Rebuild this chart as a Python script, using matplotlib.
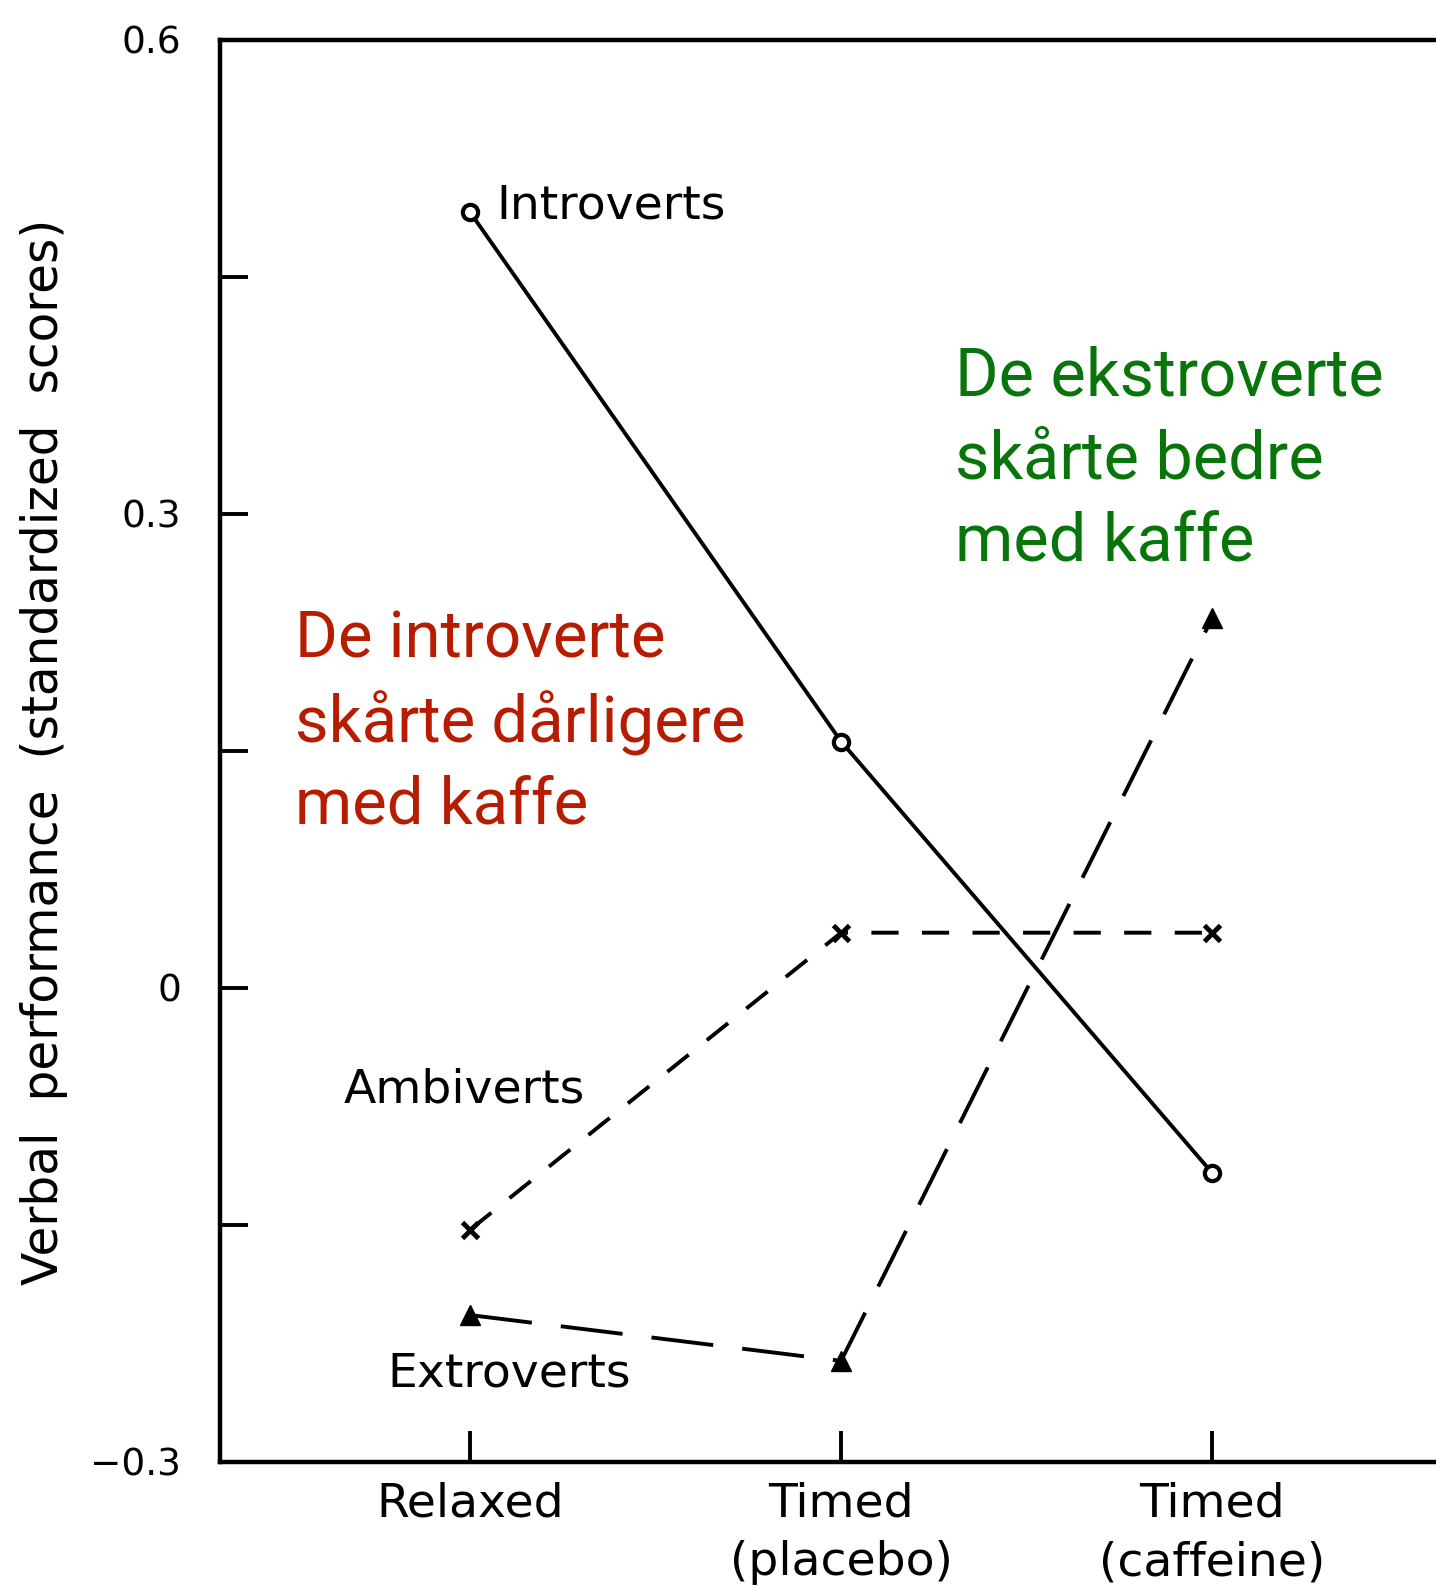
import numpy as np
import matplotlib.pyplot as plt

# Data
conditions = ["Relaxed", "Timed\n(placebo)", "Timed\n(caffeine)"]
introverts = [0.491, 0.156, -0.117]
ambiverts = [-0.153, 0.035, 0.035]
extroverts = [-0.207, -0.236, 0.234]

yticks = [-0.3, 0, 0.3, 0.6]
ytick_labels = ["\u22120.3", "0", "0.3", "0.6"]
minor_yticks = [-0.15, 0.15, 0.45]

red_note = "De introverte\nskårte dårligere\nmed kaffe"
green_note = "De ekstroverte\nskårte bedre\nmed kaffe"

W, H = 1436, 1587
fig = plt.figure(figsize=(W / 100, H / 100), dpi=100)

# axes frame runs off the right edge, like the cropped scan
left, top, bottom, right = 220, 40, 1462, 1480
ax = fig.add_axes([left / W, 1 - bottom / H, (right - left) / W, (bottom - top) / H])

x = np.arange(len(conditions))
lw = 2.8

ax.plot(x, introverts, color="black", lw=lw, marker="o", ms=11,
        mfc="white", mec="black", mew=3, zorder=3)
ax.plot(x, ambiverts, color="black", lw=lw, dashes=(7, 6), marker="x",
        ms=11, mew=3.5, zorder=3)
ax.plot(x, extroverts, color="black", lw=lw, dashes=(16, 7.5), marker="^",
        ms=14, mfc="black", mec="black", zorder=3)

ax.set_xlim(-0.674, 2.722)
ax.set_ylim(-0.3, 0.6)

ax.spines["right"].set_visible(False)
for s in ["left", "top", "bottom"]:
    ax.spines[s].set_linewidth(3.2)

ax.set_xticks(x)
ax.set_xticklabels(conditions, fontsize=34, linespacing=1.4, family="DejaVu Sans")
ax.set_yticks(yticks)
ax.set_yticklabels(ytick_labels, fontsize=27, family="DejaVu Sans")
ax.set_yticks(minor_yticks, minor=True)
ax.tick_params(axis="x", direction="in", length=22, width=2.8, pad=14)
ax.tick_params(axis="y", which="both", direction="in", length=20, width=2.8, pad=28)

fig.text(44 / W, 1 - 752 / H, "Verbal  performance  (standardized  scores)",
         rotation=90, fontsize=35, ha="center", va="center", family="DejaVu Sans")

# series labels
ax.text(0.07, 0.495, "Introverts", fontsize=34, ha="left", va="center")
ax.text(-0.34, -0.0645, "Ambiverts", fontsize=34, ha="left", va="center")
ax.text(-0.224, -0.244, "Extroverts", fontsize=34, ha="left", va="center")

# coloured notes
fig.text(295 / W, 1 - 608 / H, red_note, color="#b71c00", fontsize=47,
         family="Roboto", ha="left", va="top", linespacing=1.39)
fig.text(955 / W, 1 - 346 / H, green_note, color="#08750a", fontsize=48,
         family="Roboto", ha="left", va="top", linespacing=1.37)

fig.savefig("out.png", dpi=100)
